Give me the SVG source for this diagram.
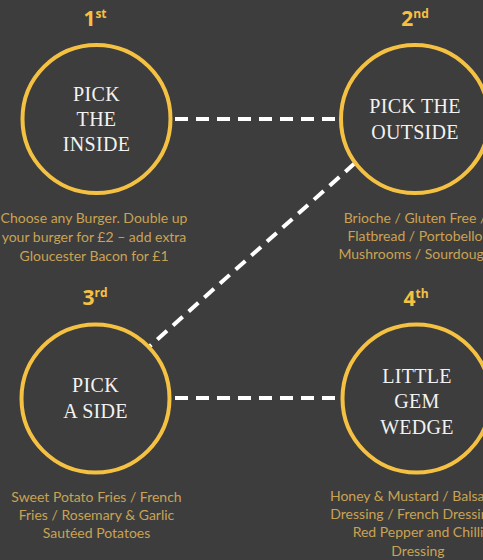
<svg xmlns="http://www.w3.org/2000/svg" width="483" height="560" viewBox="0 0 483 560">
<style>
.bg{fill:#3d3d3d}
.ring{fill:#3d3d3d;stroke:#f5c143;stroke-width:4}
.title{font-family:"Liberation Serif","DejaVu Serif",serif;font-size:20px;fill:#f2f2f2;text-anchor:middle;letter-spacing:0.3px}
.ord{font-family:"Open Sans","Liberation Sans",sans-serif;font-weight:700;font-size:21px;fill:#f5c143;text-anchor:middle}
.sup{font-size:12px}
.desc{font-family:Lato,"Liberation Sans",sans-serif;font-size:14px;fill:#c9a354;text-anchor:middle}
.dash{stroke:#ffffff;stroke-width:4;stroke-dasharray:13 8;fill:none}
</style>
<rect class="bg" x="0" y="0" width="483" height="560"/>
<g id="connectors">
<line class="dash" x1="175" y1="119" x2="338" y2="119"/>
<line class="dash" x1="175" y1="398" x2="338" y2="398"/>
<line class="dash" x1="355" y1="163" x2="150" y2="346"/>
</g>
<g id="step1">
<text class="ord" x="95" y="26">1<tspan class="sup" dy="-8">st</tspan></text>
<circle class="ring" cx="96.5" cy="119" r="74"/>
<text class="title" x="96.5" y="101">PICK</text>
<text class="title" x="96.5" y="126">THE</text>
<text class="title" x="96.5" y="151">INSIDE</text>
<text class="desc" x="94" y="223">Choose any Burger. Double up</text>
<text class="desc" x="94" y="242">your burger for £2 – add extra</text>
<text class="desc" x="94" y="261">Gloucester Bacon for £1</text>
</g>
<g id="step2">
<text class="ord" x="415" y="26">2<tspan class="sup" dy="-8">nd</tspan></text>
<circle class="ring" cx="415" cy="119" r="74"/>
<text class="title" x="415" y="113">PICK THE</text>
<text class="title" x="415" y="139">OUTSIDE</text>
<text class="desc" x="415" y="223">Brioche / Gluten Free /</text>
<text class="desc" x="415" y="241">Flatbread / Portobello</text>
<text class="desc" x="415" y="259">Mushrooms / Sourdough</text>
</g>
<g id="step3">
<text class="ord" x="95" y="305">3<tspan class="sup" dy="-8">rd</tspan></text>
<circle class="ring" cx="95.5" cy="398.5" r="74"/>
<text class="title" x="95.5" y="392">PICK</text>
<text class="title" x="95.5" y="418">A SIDE</text>
<text class="desc" x="96.5" y="502">Sweet Potato Fries / French</text>
<text class="desc" x="96.5" y="520">Fries / Rosemary &amp; Garlic</text>
<text class="desc" x="96.5" y="538">Sautéed Potatoes</text>
</g>
<g id="step4">
<text class="ord" x="416" y="306">4<tspan class="sup" dy="-8">th</tspan></text>
<circle class="ring" cx="416.5" cy="398.5" r="74"/>
<text class="title" x="417" y="383">LITTLE</text>
<text class="title" x="417" y="408">GEM</text>
<text class="title" x="417" y="434">WEDGE</text>
<text class="desc" x="418" y="501">Honey &amp; Mustard / Balsamic</text>
<text class="desc" x="418" y="519">Dressing / French Dressing /</text>
<text class="desc" x="418" y="537">Red Pepper and Chilli</text>
<text class="desc" x="418" y="556">Dressing</text>
</g>
</svg>
